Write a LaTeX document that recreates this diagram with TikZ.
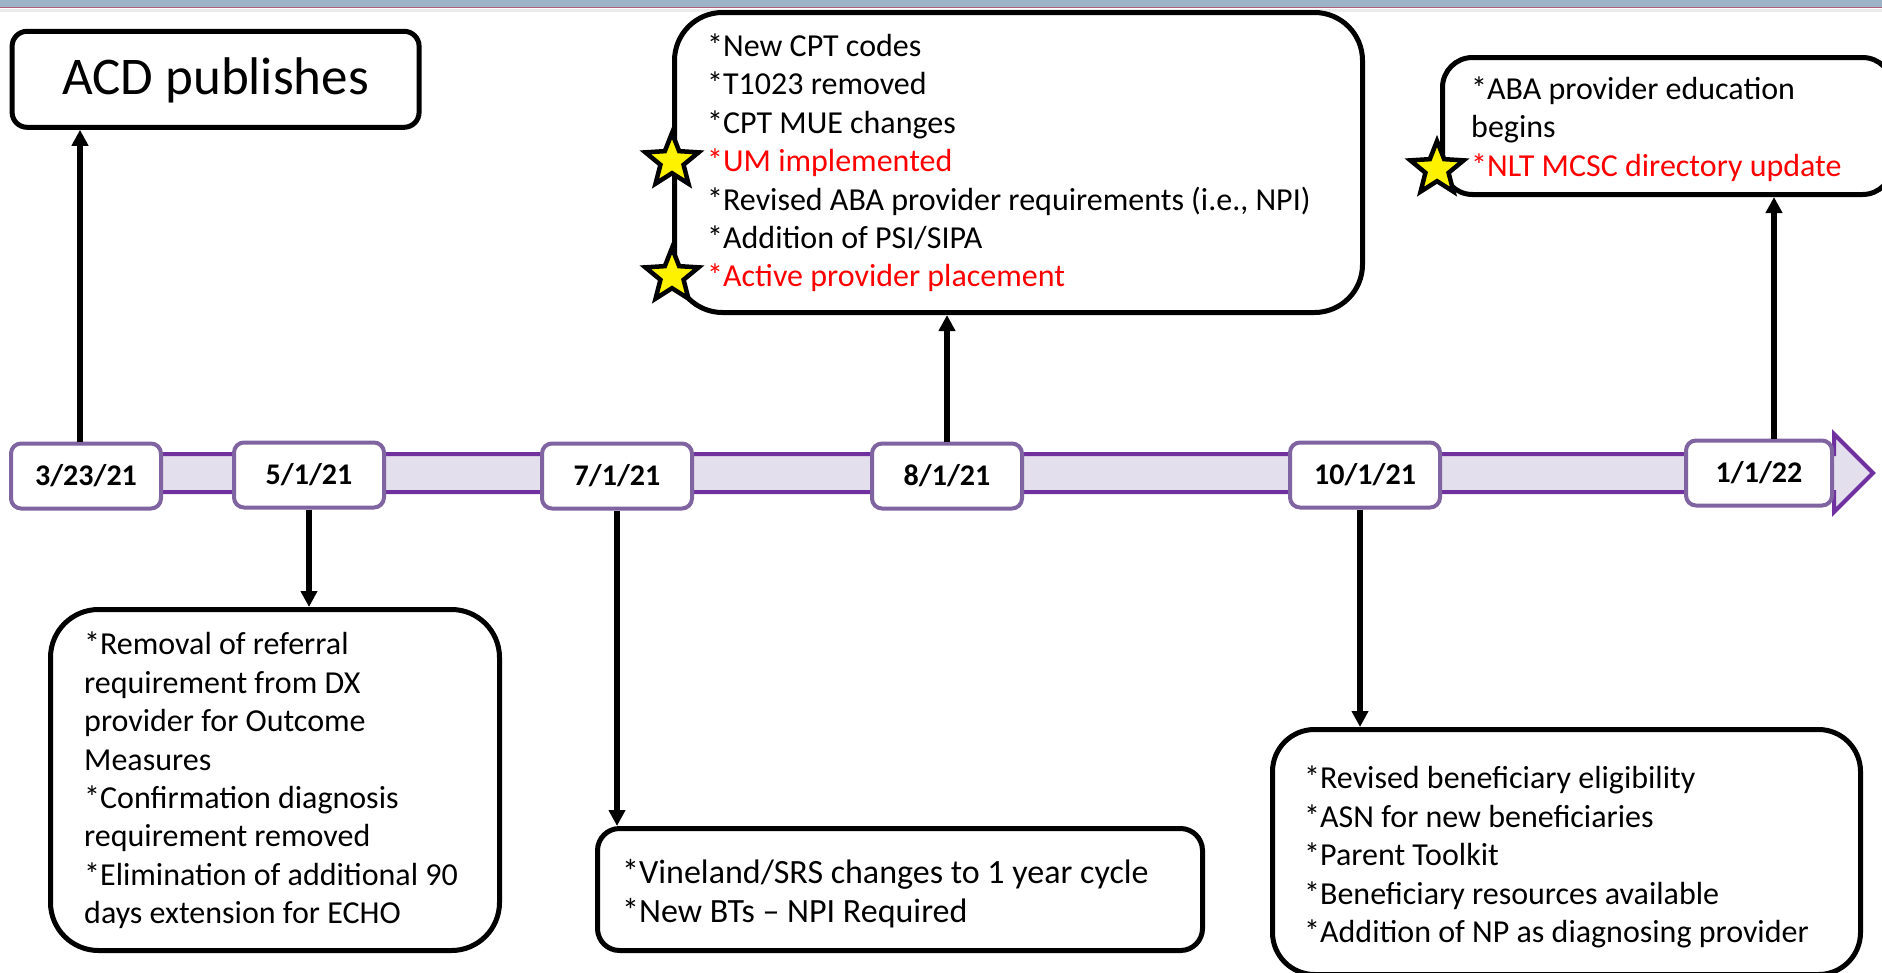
\documentclass[tikz,border=0pt]{standalone}
\usepackage{fontspec}
\setmainfont{Carlito}
\usetikzlibrary{shapes.geometric,arrows.meta,calc}
\definecolor{bandfill}{HTML}{E4DFEC}
\definecolor{bandline}{HTML}{7030A0}
\definecolor{dateline}{HTML}{8064A2}
\definecolor{stripblue}{HTML}{9DB3C8}
\definecolor{stripred}{HTML}{B0607A}
\begin{document}
\begin{tikzpicture}[x=1pt,y=-1pt,
  datebox/.style={draw=dateline, fill=white, line width=4pt, rounded corners=10pt,
    minimum width=150pt, minimum height=65pt, inner sep=0pt,
    font=\fontsize{30}{34}\selectfont\bfseries},
  infobox/.style={draw=black, fill=white, line width=5pt, rounded corners=#1,
    anchor=north west, inner sep=0pt},
  txt/.style={anchor=west, align=left, inner sep=0pt,
    font=\fontsize{32}{38.4}\selectfont},
  arr/.style={line width=5.5pt, -{Triangle[length=16pt,width=16pt]}},
  starmark/.style={star, star points=5, star point ratio=2.3, fill=yellow,
    draw=black, line width=4.5pt, minimum size=56pt, inner sep=0pt}
]
\useasboundingbox (0,0) rectangle (1882,972);
\fill[white] (0,0) rectangle (1882,972);
% top strip
\fill[stripblue] (0,0) rectangle (1882,7);
\draw[stripred, line width=1.5pt] (0,7.5) -- (1882,7.5);
\fill[black!8] (0,8.5) rectangle (1882,12);

% timeline band with arrow head
\draw[bandline, fill=bandfill, line width=4pt, line join=miter]
  (90,454) -- (1834,454) -- (1834,434) -- (1873,473) -- (1834,512) -- (1834,492) -- (90,492) -- cycle;

% date boxes
\node[datebox] (d1) at (86,476) {3/23/21};
\node[datebox] (d2) at (309,475) {5/1/21};
\node[datebox] (d3) at (617,476) {7/1/21};
\node[datebox] (d4) at (947,476) {8/1/21};
\node[datebox] (d5) at (1365,475) {10/1/21};
\node[datebox, minimum width=146pt] (d6) at (1759,473) {1/1/22};

% info boxes
\node[infobox=15pt, minimum width=407pt, minimum height=96pt] (acd) at (9.6,28.8) {};
\node[anchor=center, inner sep=0pt, font=\fontsize{53}{60}\selectfont] (acdt) at ([yshift=-1pt]acd.center) {ACD publishes};

\node[infobox=48pt, minimum width=688pt, minimum height=300pt] (m) at (672,10) {};
\node[txt] (mt) at ([xshift=35pt,yshift=-0.5pt]m.west) {*New CPT codes\\{*}T1023 removed\\{*}CPT MUE changes\\{\color{red}*UM implemented}\\{*}Revised ABA provider requirements (i.e., NPI)\\{*}Addition of PSI/SIPA\\{\color{red}*Active provider placement}};

\node[infobox=30pt, minimum width=450pt, minimum height=137pt] (r) at (1440,55) {};
\node[txt] (rt) at ([xshift=31pt,yshift=-3pt]r.west) {*ABA provider education\\begins\\{\color{red}*NLT MCSC directory update}};

\node[infobox=48pt, minimum width=449pt, minimum height=341pt] (b2) at (48,607) {};
\node[txt] (b2t) at ([xshift=36pt,yshift=-0.5pt]b2.west) {*Removal of referral\\requirement from DX\\provider for Outcome\\Measures\\{*}Confirmation diagnosis\\requirement removed\\{*}Elimination of additional 90\\days extension for ECHO};

\node[infobox=22pt, minimum width=605pt, minimum height=122pt] (b3) at (595,826) {};
\node[txt, font=\fontsize{34}{38.4}\selectfont] (b3t) at ([xshift=27pt,yshift=-4pt]b3.west) {*Vineland/SRS changes to 1 year cycle\\{*}New BTs – NPI Required};

\node[infobox=42pt, minimum width=588pt, minimum height=245pt] (b5) at (1270,727) {};
\node[txt] (b5t) at ([xshift=34pt,yshift=-5pt]b5.west) {*Revised beneficiary eligibility\\{*}ASN for new beneficiaries\\{*}Parent Toolkit\\{*}Beneficiary resources available\\{*}Addition of NP as diagnosing provider};

% stars
\node[starmark] (s1) at (672,161) {};
\node[starmark] (s2) at (672,276) {};
\node[starmark] (s3) at (1437,169) {};

% connectors
\draw[arr] ([xshift=-6pt]d1.north) -- ([xshift=-6pt]d1.north |- acd.south);
\draw[arr] (d2.south) -- (d2.south |- b2.north);
\draw[arr] (d3.south) -- (d3.south |- b3.north);
\draw[arr] (d4.north) -- (d4.north |- m.south);
\draw[arr] ([xshift=-5pt]d5.south) -- ([xshift=-5pt]d5.south |- b5.north);
\draw[arr] ([xshift=15pt]d6.north) -- ([xshift=15pt]d6.north |- r.south);
\end{tikzpicture}
\end{document}
